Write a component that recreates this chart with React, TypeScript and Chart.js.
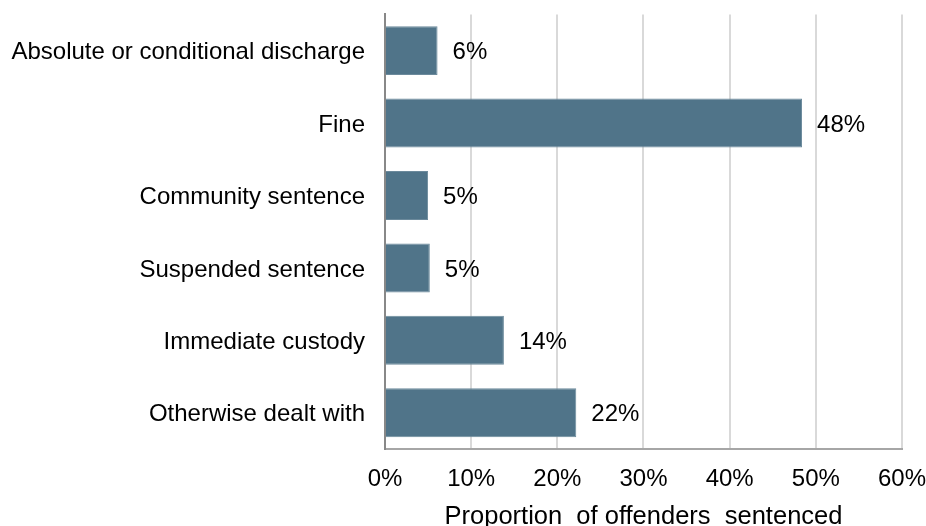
import React, { useEffect, useRef } from "react";
import { Chart, registerables } from "chart.js";

Chart.register(...registerables);

const categories = [
  "Absolute or conditional discharge",
  "Fine",
  "Community sentence",
  "Suspended sentence",
  "Immediate custody",
  "Otherwise dealt with",
];
const values = [6.1, 48.4, 5.0, 5.2, 13.8, 22.2];
const valueLabels = ["6%", "48%", "5%", "5%", "14%", "22%"];
const xTicks = [0, 10, 20, 30, 40, 50, 60];
const axisTitle = "Proportion  of offenders  sentenced";

const FONT = "'Liberation Sans', Arial, sans-serif";

const labelPlugin = {
  id: "barLabels",
  afterDatasetsDraw(chart: any) {
    const ctx = chart.ctx;
    const meta = chart.getDatasetMeta(0);
    ctx.save();
    ctx.font = `24px ${FONT}`;
    ctx.fillStyle = "#000";
    ctx.textAlign = "left";
    ctx.textBaseline = "middle";
    meta.data.forEach((bar: any, i: number) => {
      ctx.fillText(valueLabels[i], bar.x + 15, bar.y + 2);
    });
    ctx.restore();
  },
};

export default function App() {
  const ref = useRef<HTMLCanvasElement>(null);
  useEffect(() => {
    document.body.style.margin = "0";
    const chart = new Chart(ref.current!, {
      type: "bar",
      data: {
        labels: categories,
        datasets: [
          {
            data: values,
            backgroundColor: "#507489",
            borderColor: "#6c8a9c",
            borderWidth: 1,
            barPercentage: 0.676,
            categoryPercentage: 1,
          },
        ],
      },
      options: {
        indexAxis: "y",
        animation: false,
        responsive: false,
        maintainAspectRatio: false,
        layout: { padding: { top: 0, right: 0, left: 0, bottom: 0 } },
        plugins: {
          legend: { display: false },
          tooltip: { enabled: false },
        },
        scales: {
          x: {
            min: 0,
            max: 60,
            afterBuildTicks: (scale: any) => {
              scale.ticks = xTicks.map((v) => ({ value: v }));
            },
            afterFit: (scale: any) => {
              scale.height = 77;
            },
            ticks: {
              callback: (v: any) => `${v}%`,
              font: { family: FONT, size: 24 },
              color: "#000",
              padding: 0,
              maxRotation: 0,
            },
            grid: {
              color: "#d9d9d9",
              lineWidth: 2,
              drawTicks: true,
              tickLength: 16,
              tickColor: "rgba(0,0,0,0)",
            },
            border: { display: true, color: "#a6a6a6", width: 2 },
            title: {
              display: true,
              text: axisTitle,
              font: { family: FONT, size: 25.5 },
              color: "#000",
              padding: { top: 8, bottom: -6 },
            },
          },
          y: {
            afterFit: (scale: any) => {
              scale.width = 385;
            },
            ticks: {
              font: { family: FONT, size: 24 },
              color: "#000",
              padding: 0,
              labelOffset: 2,
            },
            grid: {
              display: false,
              drawTicks: true,
              tickLength: 20,
            },
            border: { display: true, color: "#888888", width: 2 },
          },
        },
      },
      plugins: [labelPlugin],
    });
    return () => chart.destroy();
  }, []);
  return (
    <div style={{ width: 926, height: 526 }}>
      <canvas ref={ref} width={926} height={526} />
    </div>
  );
}
